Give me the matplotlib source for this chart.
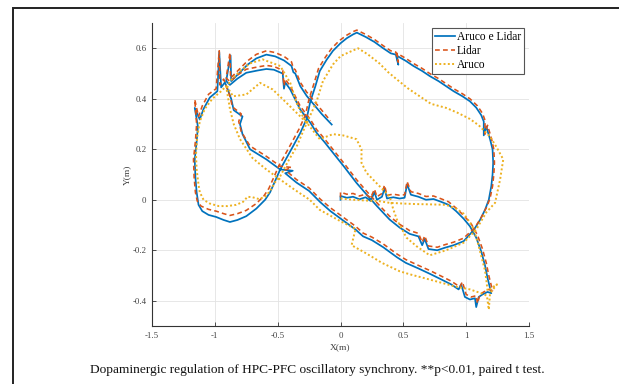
import matplotlib
matplotlib.use("Agg")
import matplotlib.pyplot as plt
from matplotlib.patches import Rectangle

# trajectory estimated from the figure (metres)
fused_x = [0.00, 0.00, 0.05, 0.10, 0.15, 0.20, 0.24, 0.27, 0.29, 0.33, 0.35, 0.37, 0.42, 0.47, 0.51, 0.53, 0.56, 0.62, 0.68, 0.74,
           0.80, 0.86, 0.92, 0.98, 1.03, 1.08, 1.12, 1.15, 1.17, 1.19, 1.20, 1.17, 1.13, 1.10, 1.08, 1.07, 1.03, 0.99, 0.96, 0.94,
           0.88, 0.80, 0.71, 0.62, 0.52, 0.45, 0.34, 0.25, 0.18, 0.12, 0.03, -0.08, -0.16, -0.25, -0.35, -0.44, -0.38, -0.48, -0.59, -0.72,
           -0.78, -0.80, -0.78, -0.85, -0.87, -0.90, -0.92,
           -0.95, -0.965, -0.98, -1.04, -1.09, -1.12, -1.16, -1.135, -1.145, -1.16, -1.155, -1.145, -1.13, -1.10, -1.05, -0.99, -0.93, -0.88,
           -0.82, -0.75, -0.67, -0.60, -0.56, -0.52, -0.48, -0.43, -0.38, -0.32, -0.27, -0.24, -0.20, -0.165, -0.11, -0.06, 0.00, 0.05,
           0.10, 0.13, 0.20, 0.27, 0.34, 0.40, 0.44, 0.46, 0.45, 0.52, 0.58, 0.65, 0.71, 0.78, 0.84, 0.90, 0.97, 1.03, 1.08, 1.12,
           1.14, 1.14, 1.16, 1.19, 1.21, 1.215, 1.21, 1.20, 1.18, 1.15, 1.11, 1.06, 0.98, 0.90, 0.83, 0.77, 0.70, 0.67, 0.65, 0.62,
           0.55, 0.47, 0.39, 0.29, 0.20, 0.127, 0.03, -0.06, -0.13, -0.19, -0.24, -0.32, -0.40, -0.44, -0.45, -0.46, -0.53, -0.59, -0.66, -0.75,
           -0.82, -0.88, -0.91,
           -0.875, -0.87, -0.80, -0.74, -0.67, -0.59, -0.52, -0.45, -0.39, -0.375, -0.36, -0.32, -0.27, -0.22, -0.15, -0.07]
fused_y = [0.000, 0.015, 0.008, 0.012, 0.002, 0.010, -0.005, 0.030, 0.000, 0.012, 0.045, 0.005, 0.010, 0.005, 0.008, 0.062, 0.020, 0.012, 0.000, 0.003,
           -0.008, -0.020, -0.045, -0.075, -0.105, -0.150, -0.205, -0.260, -0.310, -0.350, -0.370, -0.365, -0.375, -0.385, -0.425, -0.390, -0.395, -0.385, -0.335, -0.355,
           -0.335, -0.315, -0.293, -0.272, -0.250, -0.228, -0.188, -0.160, -0.145, -0.118, -0.085, -0.045, -0.010, 0.035, 0.068, 0.105, 0.115, 0.120, 0.160, 0.200,
           0.260, 0.300, 0.330, 0.355, 0.400, 0.440, 0.465,
           0.445, 0.585, 0.430, 0.405, 0.360, 0.318, 0.364, 0.290, 0.230, 0.160, 0.090, 0.030, -0.020, -0.045, -0.060, -0.068, -0.080, -0.088,
           -0.080, -0.065, -0.035, 0.000, 0.030, 0.075, 0.120, 0.165, 0.210, 0.265, 0.320, 0.390, 0.450, 0.510, 0.555, 0.590, 0.620, 0.640,
           0.655, 0.662, 0.645, 0.625, 0.600, 0.580, 0.575, 0.535, 0.570, 0.550, 0.530, 0.510, 0.490, 0.470, 0.450, 0.430, 0.410, 0.390, 0.365, 0.335,
           0.310, 0.255, 0.290, 0.240, 0.200, 0.147, 0.100, 0.054, 0.000, -0.040, -0.080, -0.120, -0.164, -0.180, -0.190, -0.200, -0.195, -0.155, -0.180, -0.145,
           -0.135, -0.110, -0.078, -0.025, 0.025, 0.067, 0.130, 0.186, 0.230, 0.265, 0.305, 0.357, 0.437, 0.465, 0.440, 0.500, 0.515, 0.518, 0.512, 0.503,
           0.480, 0.455, 0.470,
           0.572, 0.470, 0.505, 0.535, 0.560, 0.575, 0.568, 0.552, 0.530, 0.505, 0.500, 0.450, 0.412, 0.382, 0.340, 0.298]

lidar_x = [0.00, 0.00, 0.05, 0.10, 0.15, 0.20, 0.24, 0.27, 0.29, 0.33, 0.35, 0.37, 0.42, 0.47, 0.51, 0.53, 0.56, 0.62, 0.68, 0.74,
           0.80, 0.86, 0.92, 0.98, 1.04, 1.09, 1.13, 1.16, 1.18, 1.20, 1.21, 1.18, 1.14, 1.11, 1.09, 1.08, 1.04, 1.00, 0.97, 0.95,
           0.88, 0.80, 0.71, 0.62, 0.52, 0.45, 0.34, 0.25, 0.18, 0.12, 0.03, -0.08, -0.16, -0.25, -0.35, -0.44, -0.39, -0.48, -0.59, -0.72,
           -0.79, -0.81, -0.79, -0.86, -0.88, -0.91, -0.93,
           -0.96, -0.965, -0.99, -1.05, -1.10, -1.13, -1.16, -1.145, -1.155, -1.17, -1.165, -1.155, -1.14, -1.11, -1.05, -0.99, -0.93, -0.88,
           -0.82, -0.75, -0.67, -0.61, -0.57, -0.53, -0.49, -0.44, -0.39, -0.33, -0.28, -0.25, -0.21, -0.175, -0.12, -0.07, -0.01, 0.05,
           0.10, 0.13, 0.20, 0.27, 0.34, 0.40, 0.44, 0.46, 0.45, 0.52, 0.58, 0.65, 0.71, 0.78, 0.84, 0.90, 0.97, 1.03, 1.09, 1.13,
           1.15, 1.15, 1.17, 1.20, 1.22, 1.225, 1.22, 1.21, 1.19, 1.16, 1.12, 1.07, 0.98, 0.90, 0.83, 0.77, 0.70, 0.67, 0.65, 0.62,
           0.55, 0.47, 0.39, 0.29, 0.20, 0.127, 0.03, -0.06, -0.13, -0.19, -0.24, -0.32, -0.40, -0.44, -0.45, -0.46, -0.53, -0.59, -0.66, -0.75,
           -0.82, -0.88, -0.91,
           -0.88, -0.875, -0.80, -0.74, -0.67, -0.59, -0.52, -0.45, -0.39, -0.375, -0.36, -0.32, -0.27, -0.22, -0.15, -0.08]
lidar_y = [0.010, 0.030, 0.022, 0.025, 0.015, 0.022, 0.008, 0.042, 0.012, 0.025, 0.058, 0.018, 0.022, 0.018, 0.020, 0.072, 0.032, 0.025, 0.013, 0.015,
           0.004, -0.008, -0.033, -0.062, -0.095, -0.140, -0.195, -0.250, -0.300, -0.340, -0.360, -0.355, -0.365, -0.375, -0.410, -0.380, -0.385, -0.375, -0.325, -0.345,
           -0.322, -0.302, -0.280, -0.260, -0.237, -0.215, -0.175, -0.148, -0.132, -0.105, -0.072, -0.032, 0.002, 0.047, 0.080, 0.118, 0.128, 0.133, 0.172, 0.213,
           0.270, 0.310, 0.340, 0.368, 0.410, 0.452, 0.478,
           0.455, 0.590, 0.440, 0.418, 0.372, 0.330, 0.397, 0.300, 0.230, 0.160, 0.090, 0.030, -0.005, -0.025, -0.038, -0.045, -0.055, -0.062,
           -0.055, -0.042, -0.015, 0.015, 0.045, 0.090, 0.135, 0.180, 0.225, 0.280, 0.335, 0.400, 0.462, 0.520, 0.565, 0.600, 0.630, 0.652,
           0.666, 0.672, 0.655, 0.635, 0.610, 0.590, 0.585, 0.545, 0.580, 0.560, 0.540, 0.520, 0.500, 0.480, 0.460, 0.440, 0.420, 0.400, 0.372, 0.342,
           0.315, 0.260, 0.295, 0.245, 0.200, 0.147, 0.100, 0.054, 0.005, -0.032, -0.070, -0.110, -0.152, -0.168, -0.178, -0.188, -0.183, -0.143, -0.168, -0.133,
           -0.122, -0.097, -0.065, -0.012, 0.038, 0.080, 0.143, 0.199, 0.243, 0.278, 0.318, 0.370, 0.450, 0.478, 0.452, 0.513, 0.528, 0.532, 0.526, 0.517,
           0.494, 0.468, 0.482,
           0.582, 0.482, 0.520, 0.550, 0.576, 0.590, 0.583, 0.568, 0.546, 0.520, 0.515, 0.465, 0.427, 0.397, 0.355, 0.313]

aruco_x = [0.00, 0.10, 0.20, 0.30, 0.39, 0.50, 0.60, 0.70, 0.84, 0.92, 0.98, 1.03, 1.06, 1.09, 1.12, 1.15, 1.16, 1.17, 1.245, 1.19,
           1.18, 1.165, 1.13, 1.03, 0.90, 0.71, 0.55, 0.47, 0.33, 0.207, 0.088, 0.12, 0.00, -0.165, -0.245, -0.36, -0.48, -0.59, -0.70, -0.80,
           -0.85, -0.88, -0.90, -0.91,
           -0.95, -1.02, -1.08, -1.12, -1.14, -1.15, -1.145, -1.13, -1.12, -1.09, -1.04, -0.97, -0.90, -0.83, -0.775, -0.74, -0.70, -0.65, -0.60, -0.56,
           -0.52, -0.48, -0.42, -0.35, -0.29, -0.24, -0.19, -0.14, -0.06, 0.00, 0.07, 0.14, 0.22, 0.31, 0.38, 0.45, 0.54, 0.63, 0.72, 0.84,
           0.93, 1.03, 1.10, 1.19, 1.24, 1.295, 1.27, 1.23, 1.16, 1.08, 0.98, 0.84, 0.71, 0.605, 0.525, 0.45, 0.42, 0.39, 0.31, 0.207,
           0.167, 0.167, 0.127, 0.02, -0.06, -0.165, -0.26,
           -0.32, -0.43, -0.54, -0.64, -0.75, -0.855, -0.90,
           -0.88, -0.80, -0.72, -0.62, -0.48, -0.40, -0.35, -0.30, -0.26]
aruco_y = [0.005, 0.000, -0.003, -0.005, -0.012, -0.015, -0.017, -0.018, -0.020, -0.035, -0.055, -0.090, -0.118, -0.165, -0.223, -0.280, -0.316, -0.360, -0.335, -0.370,
           -0.435, -0.380, -0.372, -0.355, -0.342, -0.316, -0.295, -0.283, -0.250, -0.213, -0.180, -0.115, -0.085, -0.040, 0.000, 0.038, 0.080, 0.120, 0.165, 0.240,
           0.300, 0.360, 0.420, 0.450,
           0.430, 0.400, 0.360, 0.310, 0.250, 0.180, 0.120, 0.060, 0.030, 0.000, -0.015, -0.025, -0.025, -0.020, -0.008, 0.012, 0.010, 0.003, 0.012, 0.035,
           0.070, 0.093, 0.150, 0.210, 0.280, 0.335, 0.390, 0.470, 0.536, 0.569, 0.585, 0.600, 0.575, 0.540, 0.505, 0.476, 0.440, 0.410, 0.380, 0.364,
           0.345, 0.320, 0.295, 0.250, 0.210, 0.160, 0.080, -0.012, -0.050, -0.118, -0.170, -0.200, -0.220, -0.184, -0.150, -0.080, -0.038, 0.014, 0.054, 0.107,
           0.146, 0.200, 0.240, 0.255, 0.260, 0.240, 0.300,
           0.330, 0.384, 0.437, 0.463, 0.417, 0.410, 0.445,
           0.470, 0.510, 0.540, 0.556, 0.530, 0.463, 0.384, 0.330, 0.300]

series_labels = ['Aruco e Lidar', 'Lidar', 'Aruco']
x_ticks = [-1.5, -1, -0.5, 0, 0.5, 1, 1.5]
x_ticklabels = ['-1.5', '-1', '-0.5', '0', '0.5', '1', '1.5']
y_ticks = [-0.4, -0.2, 0, 0.2, 0.4, 0.6]
y_ticklabels = ['-0.4', '-0.2', '0', '0.2', '0.4', '0.6']
caption = 'Dopaminergic regulation of HPC-PFC oscillatory synchrony. **p<0.01, paired t test.'

plt.rcParams['font.family'] = ['Liberation Serif', 'DejaVu Serif']

fig = plt.figure(figsize=(6.19, 3.84), dpi=100)
ax = fig.add_axes([0.2456, 0.151, 0.609, 0.789])

ax.plot(fused_x, fused_y, color='#0072BD', lw=1.25, label=series_labels[0])
ax.plot(lidar_x, lidar_y, color='#D95319', lw=1.15, dashes=(3, 2), label=series_labels[1])
ax.plot(aruco_x, aruco_y, color='#EDB120', lw=1.4, linestyle=(0, (1, 1.2)), label=series_labels[2])

ax.set_xlim(-1.5, 1.5)
ax.set_ylim(-0.5, 0.7)
ax.set_xticks(x_ticks, x_ticklabels)
ax.set_yticks(y_ticks, y_ticklabels)
ax.grid(True, color='#e3e3e3', lw=0.6)
ax.set_axisbelow(True)
ax.spines[['top', 'right']].set_visible(False)
ax.spines[['left', 'bottom']].set_color('#333333')
ax.spines[['left', 'bottom']].set_linewidth(0.8)
ax.tick_params(direction='in', length=3, width=0.6, color='#333333', labelsize=6.3, labelcolor='#404040', pad=4)

ax.set_xlabel('X(m)', fontsize=6.8, color='#404040')
ax.set_ylabel('Y(m)', fontsize=6.8, color='#404040')
ax.xaxis.set_label_coords(0.5, -0.058)
ax.yaxis.set_label_coords(-0.056, 0.5)

leg = ax.legend(loc='upper right', bbox_to_anchor=(523.5 / 619, 1 - 28 / 384), bbox_transform=fig.transFigure,
                borderaxespad=0, fancybox=False, framealpha=1, edgecolor='#555555', fontsize=8.3,
                handlelength=1.75, handletextpad=0.15, labelspacing=0.2, borderpad=0.22)
leg.get_frame().set_linewidth(0.8)

# outer frame of the figure panel
fig.add_artist(Rectangle((13 / 619, -0.2), 1.2, 1.2 - 7.5 / 384, transform=fig.transFigure,
                         fill=False, edgecolor='#222222', lw=1.4))

fig.text(0.512, 1 - 370 / 384, caption, ha='center', va='center', fontsize=9.6, color='#111111')

fig.savefig('out.png', dpi=100)
